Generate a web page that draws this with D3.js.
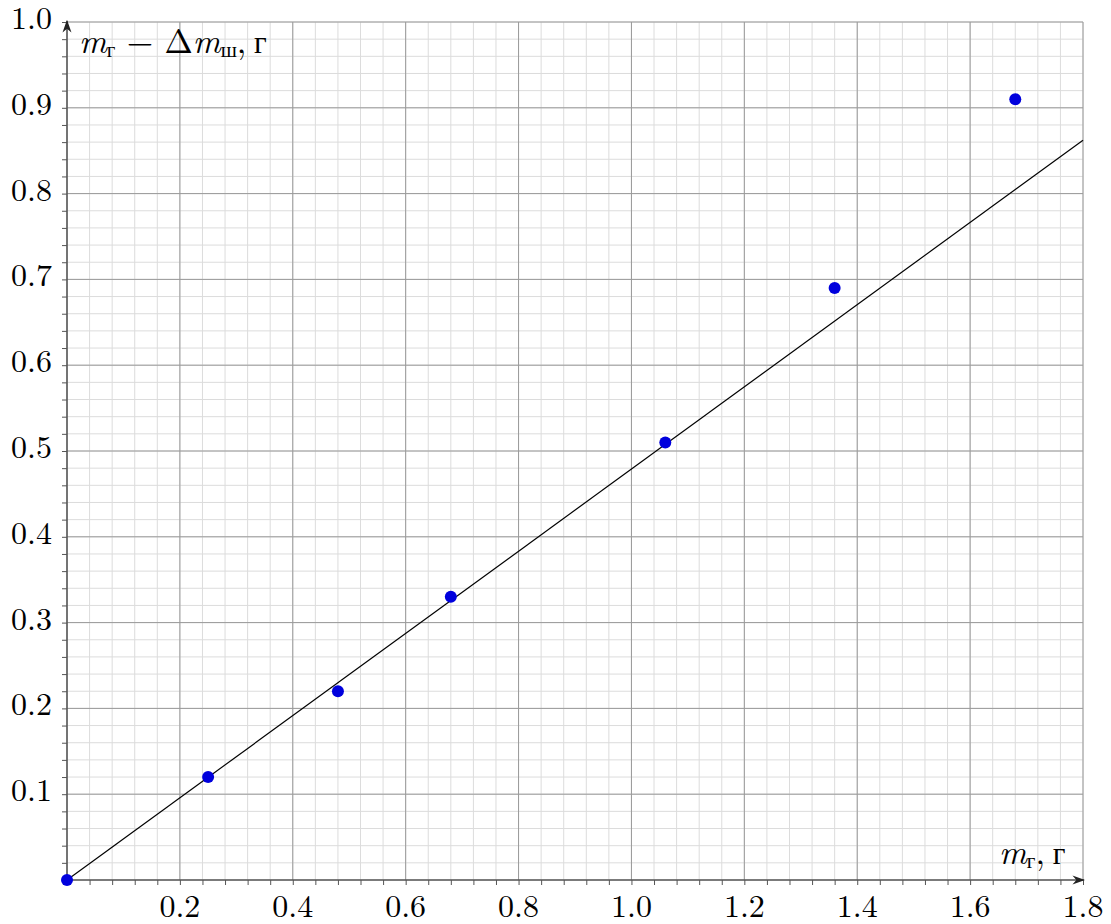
<!DOCTYPE html>
<html>
<head>
<meta charset="utf-8">
<script src="https://cdn.jsdelivr.net/npm/d3@7"></script>
<style>
  body { margin: 0; background: #fff; }
  text { font-family: "Latin Modern Roman", "Liberation Serif", "DejaVu Serif", serif; fill: #000; }
  .cyr { font-family: "Liberation Serif", "DejaVu Serif", serif; }
</style>
</head>
<body>
<div id="chart"></div>
<script>
// measured points
var massX = [0, 0.25, 0.48, 0.68, 1.06, 1.36, 1.68];
var massY = [0, 0.12, 0.22, 0.33, 0.51, 0.69, 0.91];
// fitted line through origin
var fitSlope = 0.479;
var xTicks = [0.2, 0.4, 0.6, 0.8, 1.0, 1.2, 1.4, 1.6, 1.8];
var yTicks = [0.1, 0.2, 0.3, 0.4, 0.5, 0.6, 0.7, 0.8, 0.9, 1.0];

var width = 1111, height = 924;
var margin = {top: 22, right: 28, bottom: 44, left: 67};
var labelSize = "32px";
var titleSize = "34px";

var svg = d3.select("#chart").append("svg")
    .attr("width", width)
    .attr("height", height);

var x = d3.scaleLinear().domain([0, 1.8]).range([margin.left, width - margin.right]);
var y = d3.scaleLinear().domain([0, 1.0]).range([height - margin.bottom, margin.top]);

// minor grid
var xMinor = d3.range(0, 1.8001, 0.04);
var yMinor = d3.range(0, 1.0001, 0.02);
var grid = svg.append("g");
grid.selectAll(".xminor").data(xMinor).enter().append("line")
    .attr("x1", function(d){ return x(d); }).attr("x2", function(d){ return x(d); })
    .attr("y1", y(0)).attr("y2", y(1))
    .attr("stroke", "#dcdcdc").attr("stroke-width", 1);
grid.selectAll(".yminor").data(yMinor).enter().append("line")
    .attr("y1", function(d){ return y(d); }).attr("y2", function(d){ return y(d); })
    .attr("x1", x(0)).attr("x2", x(1.8))
    .attr("stroke", "#dcdcdc").attr("stroke-width", 1);
// major grid
grid.selectAll(".xmajor").data(xTicks).enter().append("line")
    .attr("x1", function(d){ return x(d); }).attr("x2", function(d){ return x(d); })
    .attr("y1", y(0)).attr("y2", y(1))
    .attr("stroke", "#9a9a9a").attr("stroke-width", 1);
grid.selectAll(".ymajor").data(yTicks).enter().append("line")
    .attr("y1", function(d){ return y(d); }).attr("y2", function(d){ return y(d); })
    .attr("x1", x(0)).attr("x2", x(1.8))
    .attr("stroke", "#9a9a9a").attr("stroke-width", 1);

// axes with small ticks
var xAxis = d3.axisBottom(x).tickValues(xMinor.slice(1)).tickSize(5).tickFormat("");
var yAxis = d3.axisLeft(y).tickValues(yMinor.slice(1)).tickSize(5).tickFormat("");
var gx = svg.append("g").attr("transform", "translate(0," + y(0) + ")").call(xAxis);
var gy = svg.append("g").attr("transform", "translate(" + x(0) + ",0)").call(yAxis);
gx.select(".domain").remove();
gy.select(".domain").remove();
svg.selectAll(".tick line").attr("stroke", "#555");

svg.append("defs").append("marker")
    .attr("id", "arrow").attr("viewBox", "0 0 10 10")
    .attr("refX", 9).attr("refY", 5)
    .attr("markerWidth", 8).attr("markerHeight", 8)
    .attr("orient", "auto")
    .append("path").attr("d", "M0,1.5 L10,5 L0,8.5 L3,5 z").attr("fill", "#222");

svg.append("line")
    .attr("x1", x(0)).attr("x2", x(1.8) + 1)
    .attr("y1", y(0)).attr("y2", y(0))
    .attr("stroke", "#555").attr("stroke-width", 1.6)
    .attr("marker-end", "url(#arrow)");
svg.append("line")
    .attr("x1", x(0)).attr("x2", x(0))
    .attr("y1", y(0)).attr("y2", y(1) - 1)
    .attr("stroke", "#555").attr("stroke-width", 1.6)
    .attr("marker-end", "url(#arrow)");

// tick labels
svg.selectAll(".xlab").data(xTicks).enter().append("text")
    .attr("x", function(d){ return x(d); })
    .attr("y", y(0) + 37)
    .attr("text-anchor", "middle")
    .attr("font-size", labelSize)
    .text(function(d){ return d.toFixed(1); });
svg.selectAll(".ylab").data(yTicks).enter().append("text")
    .attr("x", x(0) - 15)
    .attr("y", function(d){ return y(d) + 7; })
    .attr("text-anchor", "end")
    .attr("font-size", labelSize)
    .text(function(d){ return d.toFixed(1); });

// fitted line
svg.append("line")
    .attr("x1", x(0)).attr("y1", y(0))
    .attr("x2", x(1.8)).attr("y2", y(1.8 * fitSlope))
    .attr("stroke", "#000").attr("stroke-width", 1.2);

// points
svg.selectAll(".pt").data(massX).enter().append("circle")
    .attr("cx", function(d){ return x(d); })
    .attr("cy", function(d, i){ return y(massY[i]); })
    .attr("r", 6)
    .attr("fill", "#0000dd");

// axis titles
var yTitle = svg.append("text").attr("x", 79).attr("y", 53).attr("font-size", titleSize);
yTitle.append("tspan").attr("font-style", "italic").text("m");
yTitle.append("tspan").attr("class", "cyr").attr("font-size", "21px").attr("dy", 4).text("г");
yTitle.append("tspan").attr("dy", -4).text(" − Δ");
yTitle.append("tspan").attr("font-style", "italic").text("m");
yTitle.append("tspan").attr("class", "cyr").attr("font-size", "21px").attr("dy", 4).text("ш");
yTitle.append("tspan").attr("dy", -4).text(",");
yTitle.append("tspan").attr("class", "cyr").attr("font-size", "31px").text(" г");

var xTitle = svg.append("text").attr("x", 999).attr("y", 864).attr("font-size", titleSize);
xTitle.append("tspan").attr("font-style", "italic").text("m");
xTitle.append("tspan").attr("class", "cyr").attr("font-size", "21px").attr("dy", 4).text("г");
xTitle.append("tspan").attr("dy", -4).text(",");
xTitle.append("tspan").attr("class", "cyr").attr("font-size", "31px").text(" г");
</script>
</body>
</html>
